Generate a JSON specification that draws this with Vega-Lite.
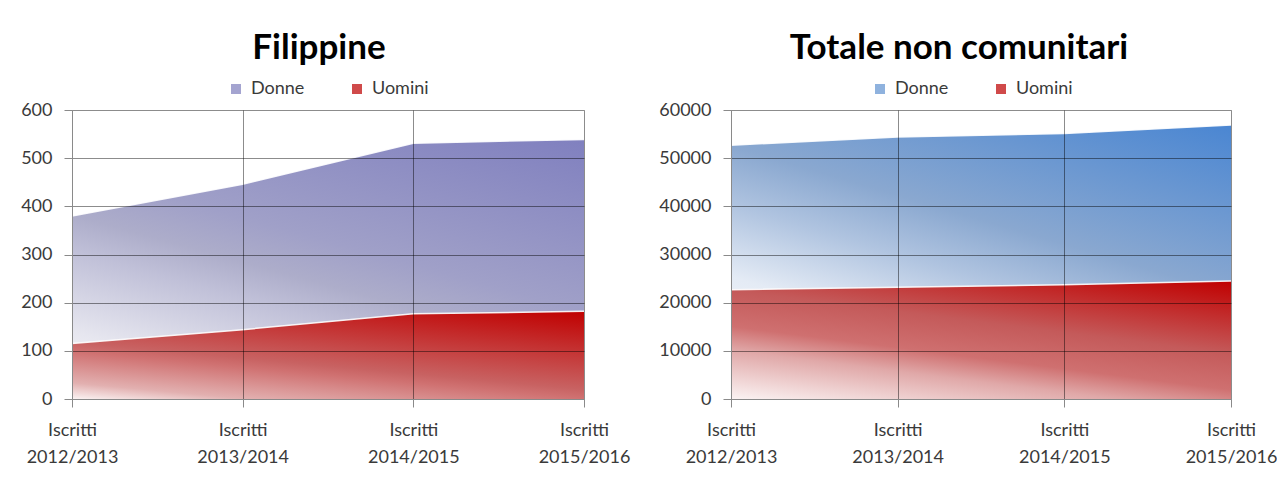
{
  "$schema": "https://vega.github.io/schema/vega-lite/v6.json",
  "background": "white",
  "padding": {"left": 20, "top": 30, "right": 0, "bottom": 0},
  "spacing": 28,
  "config": {
    "font": "Lato",
    "view": {"stroke": null},
    "axis": {
      "labelFont": "Lato", "labelFontSize": 18, "labelColor": "#3a3a3a",
      "gridColor": "#000000", "gridOpacity": 0.45, "gridWidth": 1,
      "domainColor": "#8a8a8a", "tickColor": "#8a8a8a", "tickSize": 8, "title": null
    },
    "title": {"font": "Lato", "fontSize": 35, "fontWeight": "bold", "color": "#000000", "anchor": "middle", "frame": "group"},
    "legend": {
      "orient": "none", "direction": "horizontal", "title": null,
      "symbolType": "square", "symbolSize": 100, "symbolStrokeWidth": 0,
      "labelFont": "Lato", "labelFontSize": 18, "labelColor": "#3a3a3a",
      "columnPadding": 43, "labelOffset": 6, "padding": 0
    }
  },
  "resolve": {"scale": {"color": "independent", "y": "independent"}, "legend": {"color": "independent"}},
  "hconcat": [
    {
      "width": 512, "height": 289,
      "title": {"text": "Filippine", "dx": -9, "offset": 14.5},
      "data": {"values": [
        {"anno": "Iscritti 2012/2013", "sesso": "Donne", "valore": 380},
        {"anno": "Iscritti 2013/2014", "sesso": "Donne", "valore": 446},
        {"anno": "Iscritti 2014/2015", "sesso": "Donne", "valore": 531},
        {"anno": "Iscritti 2015/2016", "sesso": "Donne", "valore": 539},
        {"anno": "Iscritti 2012/2013", "sesso": "Uomini", "valore": 115},
        {"anno": "Iscritti 2013/2014", "sesso": "Uomini", "valore": 144},
        {"anno": "Iscritti 2014/2015", "sesso": "Uomini", "valore": 177},
        {"anno": "Iscritti 2015/2016", "sesso": "Uomini", "valore": 182}
      ]},
      "layer": [
        {
          "mark": {"type": "area", "opacity": 1},
          "encoding": {
            "x": {"field": "anno", "type": "ordinal", "sort": null,
                  "scale": {"type": "point", "padding": 0},
                  "axis": {"zindex": 1, "labelAngle": 0, "grid": true, "labelExpr": "split(datum.value, ' ')", "labelLineHeight": 27, "labelPadding": 14}},
            "y": {"field": "valore", "type": "quantitative", "stack": null,
                  "scale": {"domain": [0, 600], "nice": false},
                  "axis": {"zindex": 1, "values": [0, 100, 200, 300, 400, 500, 600], "grid": true, "labelPadding": 12}},
            "color": {
              "condition": [
                {"test": "datum.sesso === 'Donne'", "value": {"gradient": "linear", "x1": 0, "y1": 1, "x2": 0.642, "y2": -0.193, "stops": [{"offset": 0, "color": "#ffffff"}, {"offset": 0.17, "color": "#e6e6ef"}, {"offset": 0.37, "color": "#c0c0d8"}, {"offset": 0.46, "color": "#adadca"}, {"offset": 0.57, "color": "#a0a0c8"}, {"offset": 1, "color": "#8080bf"}]}},
                {"test": "datum.sesso === 'Uomini'", "value": {"gradient": "linear", "x1": 0, "y1": 1, "x2": 0.642, "y2": -0.193, "stops": [{"offset": 0, "color": "#fbf3f3"}, {"offset": 0.12, "color": "#e2b0b0"}, {"offset": 0.35, "color": "#d07272"}, {"offset": 0.42, "color": "#c86262"}, {"offset": 1, "color": "#c00000"}]}}
              ],
              "field": "sesso", "type": "nominal", "sort": ["Donne", "Uomini"],
              "scale": {"domain": ["Donne", "Uomini"], "range": ["#a4a4d0", "#d04a4a"]},
              "legend": {"legendX": 155, "legendY": -30}}
          }
        },
        {
          "mark": {"type": "line", "color": "#ffffff", "strokeWidth": 1.5, "opacity": 0.9},
          "encoding": {
            "x": {"field": "anno", "type": "ordinal", "sort": null},
            "y": {"field": "valore", "type": "quantitative"},
            "detail": {"field": "sesso"}
          }
        }
      ]
    },
    {
      "width": 500, "height": 289,
      "title": {"text": "Totale non comunitari", "dx": -22, "offset": 14.5},
      "data": {"values": [
        {"anno": "Iscritti 2012/2013", "sesso": "Donne", "valore": 52700},
        {"anno": "Iscritti 2013/2014", "sesso": "Donne", "valore": 54400},
        {"anno": "Iscritti 2014/2015", "sesso": "Donne", "valore": 55100},
        {"anno": "Iscritti 2015/2016", "sesso": "Donne", "valore": 56900},
        {"anno": "Iscritti 2012/2013", "sesso": "Uomini", "valore": 22700},
        {"anno": "Iscritti 2013/2014", "sesso": "Uomini", "valore": 23200},
        {"anno": "Iscritti 2014/2015", "sesso": "Uomini", "valore": 23700},
        {"anno": "Iscritti 2015/2016", "sesso": "Uomini", "valore": 24500}
      ]},
      "layer": [
        {
          "mark": {"type": "area", "opacity": 1},
          "encoding": {
            "x": {"field": "anno", "type": "ordinal", "sort": null,
                  "scale": {"type": "point", "padding": 0},
                  "axis": {"zindex": 1, "labelAngle": 0, "grid": true, "labelExpr": "split(datum.value, ' ')", "labelLineHeight": 27, "labelPadding": 14}},
            "y": {"field": "valore", "type": "quantitative", "stack": null,
                  "scale": {"domain": [0, 60000], "nice": false},
                  "axis": {"zindex": 1, "values": [0, 10000, 20000, 30000, 40000, 50000, 60000], "grid": true, "labelPadding": 12, "format": "d"}},
            "color": {
              "condition": [
                {"test": "datum.sesso === 'Donne'", "value": {"gradient": "linear", "x1": 0, "y1": 1, "x2": 0.642, "y2": -0.193, "stops": [{"offset": 0, "color": "#ffffff"}, {"offset": 0.29, "color": "#e4ebf5"}, {"offset": 0.46, "color": "#b0c4e0"}, {"offset": 0.6, "color": "#8aa8d0"}, {"offset": 1, "color": "#4a86d2"}]}},
                {"test": "datum.sesso === 'Uomini'", "value": {"gradient": "linear", "x1": 0, "y1": 1, "x2": 0.642, "y2": -0.193, "stops": [{"offset": 0, "color": "#fbf3f3"}, {"offset": 0.27, "color": "#e0a8a8"}, {"offset": 0.4, "color": "#cf7070"}, {"offset": 0.6, "color": "#c45a5a"}, {"offset": 1, "color": "#c00000"}]}}
              ],
              "field": "sesso", "type": "nominal", "sort": ["Donne", "Uomini"],
              "scale": {"domain": ["Donne", "Uomini"], "range": ["#8fb2de", "#d04a4a"]},
              "legend": {"legendX": 140, "legendY": -30}}
          }
        },
        {
          "mark": {"type": "line", "color": "#ffffff", "strokeWidth": 1.5, "opacity": 0.9},
          "encoding": {
            "x": {"field": "anno", "type": "ordinal", "sort": null},
            "y": {"field": "valore", "type": "quantitative"},
            "detail": {"field": "sesso"}
          }
        }
      ]
    }
  ]
}
